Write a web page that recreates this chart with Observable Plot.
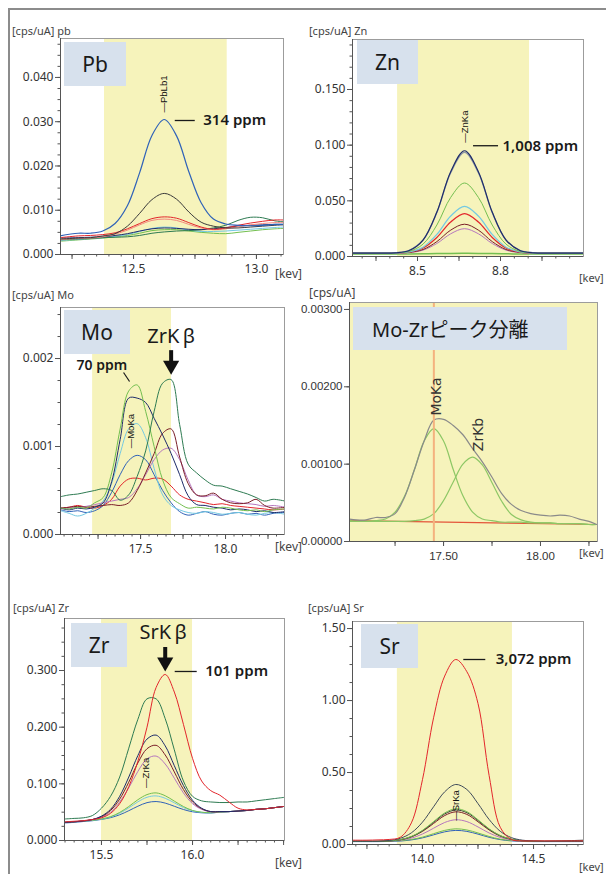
<!DOCTYPE html>
<html><head><meta charset="utf-8">
<script src="https://cdn.jsdelivr.net/npm/d3@7"></script>
<script src="https://cdn.jsdelivr.net/npm/@observablehq/plot@0.6"></script>
<style>
body{margin:0;background:#fff;overflow:hidden}
#root{position:relative;width:606px;height:874px;overflow:hidden;font-family:"Noto Sans",sans-serif}
.outer{position:absolute;left:8px;top:8px;width:800px;height:1000px;border:2px solid #8c8c8c}
.pn{position:absolute}
.lbl{position:absolute;font-size:11px;color:#444;white-space:nowrap;line-height:1}
.box{position:absolute;background:#d7e1ed;display:flex;align-items:center;justify-content:center;font-size:21px;color:#1a1a1a;font-family:"Noto Sans","Noto Sans CJK JP",sans-serif}
</style></head>
<body><div id="root"><div class="outer"></div></div>
<script>
// ---------------- DATA ----------------
// Pb panel
const pbX = [12.20, 12.275, 12.325, 12.375, 12.425, 12.475, 12.525, 12.575, 12.625, 12.675, 12.725, 12.775, 12.825, 12.875, 12.925, 12.975, 13.025, 13.075, 13.11];
const pbBlue    = [0.0042, 0.0048, 0.0048, 0.0053, 0.0070, 0.0110, 0.0185, 0.0269, 0.0305, 0.0268, 0.0187, 0.0117, 0.0080, 0.0069, 0.0066, 0.0065, 0.0066, 0.0068, 0.0068];
const pbBlack   = [0.0035, 0.0037, 0.0038, 0.0042, 0.0047, 0.0064, 0.0093, 0.0124, 0.0138, 0.0125, 0.0096, 0.0073, 0.0064, 0.0060, 0.0060, 0.0062, 0.0064, 0.0066, 0.0067];
const pbRed     = [0.0038, 0.0042, 0.0043, 0.0045, 0.0049, 0.0058, 0.0070, 0.0081, 0.0085, 0.0082, 0.0072, 0.0062, 0.0057, 0.0060, 0.0066, 0.0071, 0.0075, 0.0078, 0.0078];
const pbSalmon  = [0.0034, 0.0036, 0.0037, 0.0040, 0.0046, 0.0055, 0.0067, 0.0077, 0.0080, 0.0077, 0.0068, 0.0060, 0.0056, 0.0058, 0.0063, 0.0067, 0.0070, 0.0072, 0.0072];
const pbDkGreen = [0.0033, 0.0035, 0.0036, 0.0038, 0.0039, 0.0040, 0.0043, 0.0048, 0.0051, 0.0053, 0.0054, 0.0056, 0.0060, 0.0066, 0.0077, 0.0084, 0.0083, 0.0076, 0.0074];
const pbCyan    = [0.0032, 0.0034, 0.0036, 0.0038, 0.0041, 0.0045, 0.0052, 0.0059, 0.0062, 0.0060, 0.0055, 0.0052, 0.0052, 0.0053, 0.0055, 0.0057, 0.0059, 0.0061, 0.0062];
const pbGreen   = [0.0030, 0.0033, 0.0035, 0.0037, 0.0040, 0.0043, 0.0048, 0.0054, 0.0056, 0.0056, 0.0053, 0.0050, 0.0048, 0.0047, 0.0050, 0.0053, 0.0056, 0.0058, 0.0059];
const pbNavy    = [0.0037, 0.0038, 0.0039, 0.0040, 0.0043, 0.0047, 0.0053, 0.0058, 0.0060, 0.0059, 0.0057, 0.0056, 0.0058, 0.0061, 0.0064, 0.0066, 0.0067, 0.0068, 0.0068];
const pbXTicks = [12.5, 13.0];
const pbYTicks = [0, 0.010, 0.020, 0.030, 0.040];

// Zn panel
const znX = [8.265, 8.32, 8.37, 8.42, 8.47, 8.52, 8.57, 8.62, 8.67, 8.72, 8.77, 8.82, 8.87, 8.92, 8.97, 9.02, 9.10];
const znNavy   = [0.0030, 0.0030, 0.0030, 0.0033, 0.0054, 0.0148, 0.0399, 0.0762, 0.0950, 0.0762, 0.0399, 0.0148, 0.0054, 0.0033, 0.0030, 0.0030, 0.0030];
const znGray   = [0.0032, 0.0032, 0.0032, 0.0035, 0.0056, 0.0148, 0.0395, 0.0752, 0.0935, 0.0752, 0.0395, 0.0148, 0.0056, 0.0035, 0.0032, 0.0032, 0.0032];
const znGreen  = [0.0030, 0.0030, 0.0030, 0.0032, 0.0046, 0.0111, 0.0283, 0.0531, 0.0660, 0.0531, 0.0283, 0.0111, 0.0046, 0.0032, 0.0030, 0.0030, 0.0030];
const znCyan   = [0.0030, 0.0030, 0.0030, 0.0031, 0.0041, 0.0084, 0.0198, 0.0364, 0.0450, 0.0364, 0.0198, 0.0084, 0.0041, 0.0031, 0.0030, 0.0030, 0.0030];
const znRed    = [0.0031, 0.0031, 0.0031, 0.0032, 0.0040, 0.0076, 0.0171, 0.0310, 0.0385, 0.0310, 0.0171, 0.0076, 0.0040, 0.0032, 0.0031, 0.0031, 0.0031];
const znMaroon = [0.0030, 0.0030, 0.0030, 0.0031, 0.0037, 0.0063, 0.0134, 0.0237, 0.0290, 0.0237, 0.0134, 0.0063, 0.0037, 0.0031, 0.0030, 0.0030, 0.0030];
const znViolet = [0.0029, 0.0029, 0.0029, 0.0030, 0.0035, 0.0057, 0.0117, 0.0204, 0.0250, 0.0204, 0.0117, 0.0057, 0.0035, 0.0030, 0.0029, 0.0029, 0.0029];
const znFlat   = [0.0022, 0.0022, 0.0022, 0.0022, 0.0023, 0.0024, 0.0026, 0.0028, 0.0029, 0.0028, 0.0026, 0.0024, 0.0023, 0.0022, 0.0022, 0.0022, 0.0022];
const znXTicks = [8.5, 8.8];
const znYTicks = [0, 0.050, 0.100, 0.150];

// Mo panel
const moX = [17.03, 17.08, 17.13, 17.18, 17.23, 17.28, 17.33, 17.38, 17.43, 17.48, 17.53, 17.58, 17.63, 17.68, 17.73, 17.78, 17.83, 17.88, 17.93, 17.98, 18.03, 18.08, 18.13, 18.18, 18.23, 18.28, 18.35];
const moGreen   = [0.00030, 0.00029, 0.00031, 0.00030, 0.00036, 0.00042, 0.00070, 0.00120, 0.00163, 0.00170, 0.00140, 0.00100, 0.00062, 0.00042, 0.00035, 0.00030, 0.00031, 0.00030, 0.00029, 0.00031, 0.00030, 0.00028, 0.00027, 0.00028, 0.00026, 0.00028, 0.00029];
const moDkGreen = [0.00043, 0.00045, 0.00046, 0.00048, 0.00050, 0.00052, 0.00050, 0.00039, 0.00045, 0.00066, 0.00095, 0.00140, 0.00172, 0.00176, 0.00125, 0.00080, 0.00070, 0.00062, 0.00056, 0.00055, 0.00052, 0.00049, 0.00046, 0.00042, 0.00038, 0.00040, 0.00038];
const moNavy    = [0.00030, 0.00028, 0.00030, 0.00029, 0.00031, 0.00036, 0.00060, 0.00108, 0.00155, 0.00155, 0.00150, 0.00132, 0.00113, 0.00092, 0.00068, 0.00044, 0.00034, 0.00033, 0.00031, 0.00030, 0.00028, 0.00029, 0.00028, 0.00026, 0.00027, 0.00025, 0.00026];
const moCyan    = [0.00027, 0.00024, 0.00021, 0.00024, 0.00030, 0.00038, 0.00058, 0.00092, 0.00120, 0.00126, 0.00110, 0.00075, 0.00045, 0.00033, 0.00028, 0.00025, 0.00024, 0.00026, 0.00025, 0.00023, 0.00024, 0.00025, 0.00023, 0.00022, 0.00024, 0.00025, 0.00023];
const moBlue    = [0.00028, 0.00026, 0.00027, 0.00025, 0.00027, 0.00033, 0.00048, 0.00068, 0.00084, 0.00090, 0.00085, 0.00068, 0.00050, 0.00036, 0.00026, 0.00022, 0.00024, 0.00026, 0.00023, 0.00022, 0.00024, 0.00025, 0.00023, 0.00024, 0.00022, 0.00024, 0.00025];
const moMaroon  = [0.00030, 0.00031, 0.00032, 0.00031, 0.00032, 0.00033, 0.00034, 0.00033, 0.00036, 0.00050, 0.00070, 0.00092, 0.00115, 0.00120, 0.00088, 0.00058, 0.00045, 0.00044, 0.00047, 0.00040, 0.00036, 0.00035, 0.00036, 0.00040, 0.00033, 0.00030, 0.00031];
const moViolet  = [0.00029, 0.00030, 0.00031, 0.00032, 0.00034, 0.00036, 0.00038, 0.00040, 0.00042, 0.00052, 0.00068, 0.00085, 0.00096, 0.00098, 0.00085, 0.00062, 0.00045, 0.00043, 0.00045, 0.00040, 0.00038, 0.00036, 0.00035, 0.00034, 0.00032, 0.00033, 0.00031];
const moRed     = [0.00030, 0.00031, 0.00033, 0.00031, 0.00030, 0.00033, 0.00040, 0.00055, 0.00063, 0.00064, 0.00062, 0.00064, 0.00063, 0.00055, 0.00045, 0.00040, 0.00038, 0.00036, 0.00034, 0.00035, 0.00033, 0.00032, 0.00031, 0.00030, 0.00029, 0.00028, 0.00029];
const moXTicks = [17.5, 18.0];
const moYTicks = [0, 0.001, 0.002];

// Mo-Zr peak separation panel
const mzX = [17.015, 17.05, 17.10, 17.15, 17.20, 17.25, 17.30, 17.35, 17.40, 17.45, 17.50, 17.55, 17.60, 17.65, 17.70, 17.75, 17.80, 17.85, 17.90, 17.95, 18.00, 18.05, 18.10, 18.15, 18.20, 18.25, 18.29];
const mzTotal = [0.00029, 0.00028, 0.00028, 0.00031, 0.00031, 0.00036, 0.00058, 0.00093, 0.00130, 0.00157, 0.00158, 0.00150, 0.00138, 0.00120, 0.00103, 0.00083, 0.00062, 0.00048, 0.00040, 0.00036, 0.00034, 0.00033, 0.00034, 0.00033, 0.00029, 0.00026, 0.00022];
const mzMoKa  = [0.00026, 0.00026, 0.00026, 0.00027, 0.00029, 0.00038, 0.00059, 0.00093, 0.00130, 0.00146, 0.00130, 0.00093, 0.00059, 0.00038, 0.00029, 0.00027, 0.00025, 0.00025, 0.00025, 0.00024, 0.00024, 0.00024, 0.00023, 0.00023, 0.00023, 0.00022, 0.00022];
const mzZrKb  = [0.00027, 0.00026, 0.00026, 0.00026, 0.00026, 0.00026, 0.00026, 0.00027, 0.00029, 0.00036, 0.00053, 0.00077, 0.00100, 0.00109, 0.00099, 0.00076, 0.00052, 0.00035, 0.00028, 0.00025, 0.00024, 0.00024, 0.00023, 0.00023, 0.00023, 0.00022, 0.00022];
const mzBaseX = [17.015, 18.29];
const mzBase  = [0.00027, 0.00022];
const mzXTicks = [17.5, 18.0];
const mzYTicks = [0, 0.001, 0.002, 0.003];

// Zr panel
const zrX = [15.30, 15.35, 15.40, 15.45, 15.50, 15.55, 15.60, 15.65, 15.70, 15.75, 15.80, 15.85, 15.90, 15.95, 16.00, 16.05, 16.10, 16.15, 16.20, 16.25, 16.30, 16.35, 16.40, 16.45, 16.50];
const zrRed     = [0.033, 0.034, 0.035, 0.037, 0.040, 0.048, 0.065, 0.095, 0.140, 0.200, 0.270, 0.293, 0.262, 0.205, 0.145, 0.105, 0.088, 0.080, 0.068, 0.057, 0.054, 0.055, 0.056, 0.058, 0.060];
const zrDkGreen = [0.038, 0.039, 0.040, 0.044, 0.057, 0.078, 0.112, 0.163, 0.214, 0.250, 0.250, 0.215, 0.160, 0.105, 0.078, 0.070, 0.068, 0.067, 0.067, 0.068, 0.068, 0.070, 0.072, 0.074, 0.076];
const zrNavy    = [0.032, 0.033, 0.0345, 0.037, 0.043, 0.055, 0.078, 0.112, 0.150, 0.179, 0.186, 0.167, 0.132, 0.097, 0.071, 0.057, 0.051, 0.051, 0.051, 0.052, 0.053, 0.055, 0.056, 0.058, 0.060];
const zrMaroon  = [0.032, 0.033, 0.0345, 0.037, 0.042, 0.053, 0.073, 0.103, 0.137, 0.162, 0.168, 0.151, 0.121, 0.090, 0.068, 0.056, 0.051, 0.051, 0.051, 0.052, 0.053, 0.055, 0.056, 0.058, 0.060];
const zrViolet  = [0.032, 0.033, 0.0344, 0.0366, 0.041, 0.050, 0.068, 0.093, 0.122, 0.144, 0.149, 0.135, 0.110, 0.084, 0.065, 0.055, 0.0505, 0.0507, 0.051, 0.052, 0.053, 0.055, 0.056, 0.058, 0.060];
const zrGreen   = [0.032, 0.033, 0.0342, 0.0356, 0.038, 0.042, 0.0495, 0.060, 0.072, 0.081, 0.084, 0.079, 0.0695, 0.060, 0.053, 0.050, 0.049, 0.050, 0.051, 0.052, 0.053, 0.055, 0.056, 0.058, 0.060];
const zrCyan    = [0.032, 0.033, 0.0341, 0.0355, 0.0377, 0.0416, 0.0481, 0.0576, 0.0682, 0.0763, 0.0787, 0.0745, 0.0665, 0.0582, 0.0524, 0.0496, 0.0489, 0.050, 0.051, 0.052, 0.053, 0.055, 0.056, 0.058, 0.060];
const zrBlue    = [0.031, 0.032, 0.0335, 0.0349, 0.0372, 0.0403, 0.0454, 0.0526, 0.0605, 0.0668, 0.0688, 0.066, 0.0604, 0.0547, 0.0507, 0.0489, 0.0486, 0.050, 0.051, 0.052, 0.053, 0.055, 0.056, 0.058, 0.060];
const zrXTicks = [15.5, 16.0];
const zrYTicks = [0, 0.100, 0.200, 0.300];

// Sr panel
const srX = [13.685, 13.75, 13.80, 13.85, 13.90, 13.95, 14.00, 14.05, 14.10, 14.15, 14.20, 14.25, 14.30, 14.35, 14.40, 14.45, 14.50, 14.55, 14.60, 14.65, 14.725];
const srRed     = [0.030, 0.030, 0.032, 0.035, 0.050, 0.150, 0.450, 0.880, 1.170, 1.285, 1.200, 0.980, 0.480, 0.120, 0.035, 0.025, 0.025, 0.025, 0.025, 0.025, 0.025];
const srBlack   = [0.022, 0.022, 0.022, 0.028, 0.043, 0.081, 0.155, 0.262, 0.366, 0.417, 0.382, 0.284, 0.174, 0.092, 0.048, 0.030, 0.024, 0.022, 0.022, 0.022, 0.022];
const srGreen   = [0.022, 0.022, 0.022, 0.025, 0.034, 0.056, 0.098, 0.159, 0.219, 0.248, 0.228, 0.172, 0.109, 0.062, 0.037, 0.026, 0.023, 0.022, 0.022, 0.022, 0.022];
const srDark    = [0.022, 0.022, 0.022, 0.025, 0.033, 0.054, 0.095, 0.154, 0.212, 0.240, 0.221, 0.167, 0.106, 0.061, 0.036, 0.026, 0.023, 0.022, 0.024, 0.026, 0.030];
const srMaroon  = [0.022, 0.022, 0.022, 0.025, 0.033, 0.053, 0.091, 0.146, 0.201, 0.227, 0.209, 0.158, 0.101, 0.058, 0.036, 0.026, 0.023, 0.022, 0.022, 0.022, 0.022];
const srViolet  = [0.022, 0.022, 0.022, 0.024, 0.030, 0.044, 0.073, 0.113, 0.153, 0.172, 0.159, 0.122, 0.080, 0.049, 0.032, 0.025, 0.023, 0.022, 0.022, 0.022, 0.022];
const srLtGreen = [0.022, 0.022, 0.022, 0.023, 0.027, 0.035, 0.051, 0.075, 0.098, 0.109, 0.101, 0.080, 0.056, 0.037, 0.028, 0.024, 0.022, 0.022, 0.022, 0.022, 0.022];
const srBlue    = [0.020, 0.020, 0.020, 0.021, 0.024, 0.032, 0.046, 0.067, 0.088, 0.098, 0.091, 0.072, 0.050, 0.034, 0.025, 0.021, 0.020, 0.020, 0.020, 0.020, 0.020];
const srXTicks = [14.0, 14.5];
const srYTicks = [0, 0.50, 1.00, 1.50];

// ---------------- STYLE / RENDER ----------------
const BAND = "#f6f3bb";
const C = {blue:"#2f62b8", navy:"#1e2c6a", black:"#3a3a3a", red:"#e3262c", salmon:"#f28a7e", dkgreen:"#2e7b52",
  green:"#74bf50", cyan:"#74c9e2", maroon:"#7a1e28", violet:"#b676be", gray:"#8f98a6", slate:"#3f4b5a"};
const root = document.getElementById("root");
const FONT = "'Noto Sans', sans-serif";

function peakOf(xs, ys) { let i = d3.maxIndex(ys); return {x: xs[i], y: ys[i]}; }
function rows(xs, ys) { return xs.map((x, i) => ({x, y: ys[i]})); }

function addText(txt, left, top, cls, style) {
  const d = document.createElement("div");
  d.className = cls; d.textContent = txt;
  d.style.left = left + "px"; d.style.top = top + "px";
  if (style) Object.assign(d.style, style);
  root.appendChild(d);
}

function render(p) {
  const mL = 56, mR = 8, mT = 8, mB = 28;
  const [fl, ft, fr, fb] = p.frame;
  const fw = fr - fl, fh = fb - ft;
  const kx = (p.xDom[1] - p.xDom[0]) / fw, ky = (p.yDom[1] - p.yDom[0]) / fh;
  const marks = [];
  marks.push(Plot.rect([p.band], {x1: d => d[0], x2: d => d[1], y1: () => p.yDom[0], y2: () => p.yDom[1], fill: BAND}));
  for (const s of p.series) {
    marks.push(Plot.line(rows(s.x, s.y), {x: "x", y: "y", stroke: s.c, strokeWidth: s.w || 1, curve: s.curve || "catmull-rom", clip: true}));
  }
  marks.push(...p.annot(kx, ky));
  marks.push(
    Plot.axisX(d3.range(p.xMinor[0], p.xDom[1], p.xMinor[1]), {tickSize: 2.5, tickFormat: () => "", label: null, stroke: "#555"}),
    Plot.axisX(d3.range(p.xMajor[0], p.xDom[1], p.xMajor[1]), {tickSize: 5, tickFormat: () => "", label: null, stroke: "#555"}),
    Plot.axisX(p.xTicks, {tickSize: 5, tickPadding: 5, tickFormat: p.xFmt, label: null, fontSize: p.tickFont || 12, fill: "#333", stroke: "#555"}),
    Plot.axisY(d3.range(0, p.yDom[1], p.yMinor), {tickSize: 2.5, tickFormat: () => "", label: null, stroke: "#555"}),
    Plot.axisY(p.yTicks, {tickSize: 5, tickPadding: 2, tickFormat: p.yFmt, label: null, fontSize: p.tickFont || 12, fill: "#333", stroke: "#555"}),
    Plot.frame({stroke: "#9c9c9c"}),
    Plot.ruleX([p.xDom[0]], {stroke: "#555"}),
    Plot.ruleY([p.yDom[0]], {stroke: "#555"})
  );
  const svg = Plot.plot({
    width: fw + mL + mR, height: fh + mT + mB,
    marginLeft: mL, marginRight: mR, marginTop: mT, marginBottom: mB,
    x: {domain: p.xDom, label: null}, y: {domain: p.yDom, label: null},
    style: {fontFamily: p.fontFamily || FONT, fontSize: "12px", color: "#333", background: "transparent", overflow: "visible"},
    marks
  });
  const div = document.createElement("div");
  div.className = "pn";
  div.style.left = (fl - mL) + "px"; div.style.top = (ft - mT) + "px";
  div.appendChild(svg);
  root.appendChild(div);
}

function ppm(peak, kx, ky, label, x1, x2, dyl, dxt, size) {
  return [
    Plot.ruleY([peak], {y: "y", x1: d => d.x + x1 * kx, x2: d => d.x + x2 * kx, dy: dyl, stroke: "#1a1a1a", strokeWidth: 1.3}),
    Plot.text([peak], {x: "x", y: "y", text: () => label, dx: dxt, dy: dyl, textAnchor: "start", fontSize: size || 15, fontWeight: 600, fill: "#1a1a1a"})
  ];
}
function vlabel(peak, label, dx, dy, size, font, color) {
  return Plot.text([peak], {x: "x", y: "y", text: () => label, rotate: -90, textAnchor: "start", dx, dy,
    fontSize: size || 9.5, fontFamily: font || "'Liberation Sans', sans-serif", fill: color || "#111"});
}
function arrow(peak, ky, label, tipDy, dxText) {
  return [
    Plot.text([peak], {x: "x", y: "y", text: () => label, dx: dxText || 0, dy: tipDy - 32, fontSize: 20, fill: "#1a1a1a", lineAnchor: "bottom"}),
    Plot.ruleX([peak], {x: "x", y1: d => d.y + (-tipDy + 24) * ky, y2: d => d.y + (-tipDy + 10) * ky, stroke: "#111", strokeWidth: 4}),
    Plot.dot([peak], {x: "x", y: "y", symbol: "triangle", rotate: 180, r: 6, fill: "#111", stroke: "none", dy: tipDy - 9.3})
  ];
}

// Pb
render({frame: [60, 38, 283, 254], xDom: [12.203, 13.11], yDom: [0, 0.0488], band: [12.382, 12.881],
  xMinor: [12.25, 0.05], xMajor: [12.25, 0.25], xTicks: pbXTicks, xFmt: d3.format(".1f"),
  yMinor: 0.0025, yTicks: pbYTicks, yFmt: d3.format(".3f"),
  series: [
    {x: pbX, y: pbGreen, c: C.green}, {x: pbX, y: pbCyan, c: C.cyan}, {x: pbX, y: pbDkGreen, c: C.dkgreen},
    {x: pbX, y: pbNavy, c: C.navy}, {x: pbX, y: pbSalmon, c: C.salmon}, {x: pbX, y: pbRed, c: C.red},
    {x: pbX, y: pbBlack, c: C.black}, {x: pbX, y: pbBlue, c: C.blue, w: 1.2}],
  annot: (kx, ky) => { const pk = peakOf(pbX, pbBlue); return [vlabel(pk, "—PbLb1", 0, -7), ...ppm(pk, kx, ky, "314 ppm", 11, 31, 1, 39)]; }
});
// Zn
render({frame: [352, 39, 583, 256], xDom: [8.265, 9.10], yDom: [0, 0.1949], band: [8.428, 8.905],
  xMinor: [8.30, 0.05], xMajor: [8.35, 0.15], xTicks: znXTicks, xFmt: d3.format(".1f"),
  yMinor: 0.01, yTicks: znYTicks, yFmt: d3.format(".3f"),
  series: [
    {x: znX, y: znFlat, c: C.green, w: 1.5}, {x: znX, y: znViolet, c: C.violet}, {x: znX, y: znMaroon, c: C.maroon},
    {x: znX, y: znRed, c: C.red, w: 1.2}, {x: znX, y: znCyan, c: C.cyan, w: 1.2}, {x: znX, y: znGreen, c: C.green},
    {x: znX, y: znGray, c: C.gray, w: 1.3}, {x: znX, y: znNavy, c: C.navy, w: 1.2}],
  annot: (kx, ky) => { const pk = peakOf(znX, znNavy); return [vlabel(pk, "—ZnKa", 0, -8), ...ppm(pk, kx, ky, "1,008 ppm", 9, 34, -5, 38)]; }
});
// Mo
render({frame: [60, 307, 284, 534], xDom: [17.029, 18.347], yDom: [0, 0.00258], band: [17.218, 17.682],
  xMinor: [17.05, 0.05], xMajor: [17.25, 0.25], xTicks: moXTicks, xFmt: d3.format(".1f"),
  yMinor: 0.00025, yTicks: moYTicks, yFmt: d3.format(".3f"),
  series: [
    {x: moX, y: moRed, c: C.red}, {x: moX, y: moBlue, c: C.blue}, {x: moX, y: moCyan, c: C.cyan},
    {x: moX, y: moViolet, c: C.violet}, {x: moX, y: moMaroon, c: C.maroon}, {x: moX, y: moNavy, c: C.navy},
    {x: moX, y: moGreen, c: C.green}, {x: moX, y: moDkGreen, c: C.dkgreen}],
  annot: (kx, ky) => {
    const pg = peakOf(moX, moGreen), pb = peakOf(moX, moBlue), pz = peakOf(moX, moDkGreen);
    return [
      vlabel(pb, "—MoKa", -6, -7),
      Plot.link([pg], {x1: d => d.x - 13.6 * kx, y1: d => d.y + 12.4 * ky, x2: d => d.x - 7.6 * kx, y2: d => d.y + 3.4 * ky, stroke: "#1a1a1a", strokeWidth: 1.2}),
      Plot.text([pg], {x: "x", y: "y", text: () => "70 ppm", dx: -10, dy: -19, textAnchor: "end", fontSize: 14, fontWeight: 600, fill: "#1a1a1a"}),
      ...arrow(pz, ky, "ZrK\u2009β", -5)
    ];
  }
});
// Mo-Zr separation
render({frame: [349, 302, 597, 541], xDom: [17.015, 18.294], yDom: [0, 0.00309], band: [17.015, 18.294],
  xMinor: [17.25, 0.25], xMajor: [17.25, 0.25], xTicks: mzXTicks, xFmt: d3.format(".2f"),
  yMinor: 0.001, yTicks: mzYTicks, yFmt: d3.format(".5f"), tickFont: 11.5, fontFamily: "'Liberation Sans', sans-serif",
  series: [
    {x: mzBaseX, y: mzBase, c: "#e4553a", w: 1.2, curve: "linear"},
    {x: mzX, y: mzMoKa, c: "#8dc765", w: 1.2}, {x: mzX, y: mzZrKb, c: "#8dc765", w: 1.2},
    {x: mzX, y: mzTotal, c: "#8a8a8a", w: 1.2}],
  annot: (kx, ky) => {
    const p1 = peakOf(mzX, mzMoKa), p2 = peakOf(mzX, mzZrKb);
    return [
      Plot.ruleX([p1], {x: "x", stroke: "#f4b27e", strokeWidth: 2}),
      vlabel(p1, "MoKa", 3, -13, 14, "'DejaVu Sans', sans-serif", "#333"),
      vlabel(p2, "ZrKb", 5.5, -6, 14, "'DejaVu Sans', sans-serif", "#333")
    ];
  }
});
// Zr
render({frame: [64, 618, 284, 840], xDom: [15.297, 16.505], yDom: [0, 0.3918], band: [15.5, 16.0],
  xMinor: [15.30, 0.05], xMajor: [15.50, 0.25], xTicks: zrXTicks, xFmt: d3.format(".1f"),
  yMinor: 0.025, yTicks: zrYTicks, yFmt: d3.format(".3f"),
  series: [
    {x: zrX, y: zrBlue, c: C.blue}, {x: zrX, y: zrCyan, c: C.cyan}, {x: zrX, y: zrGreen, c: C.green},
    {x: zrX, y: zrViolet, c: C.violet}, {x: zrX, y: zrMaroon, c: C.maroon}, {x: zrX, y: zrNavy, c: C.navy},
    {x: zrX, y: zrDkGreen, c: C.dkgreen}, {x: zrX, y: zrRed, c: C.red}],
  annot: (kx, ky) => {
    const pr = peakOf(zrX, zrRed), pg = peakOf(zrX, zrGreen);
    return [vlabel(pg, "—ZrKa", -10, -5), ...ppm(pr, kx, ky, "101 ppm", 10, 32, -3, 40), ...arrow(pr, ky, "SrK\u2009β", -3, -2)];
  }
});
// Sr
render({frame: [352, 621, 583, 844], xDom: [13.685, 14.725], yDom: [0, 1.549], band: [13.887, 14.405],
  xMinor: [13.70, 0.05], xMajor: [13.75, 0.25], xTicks: srXTicks, xFmt: d3.format(".1f"),
  yMinor: 0.125, yTicks: srYTicks, yFmt: d3.format(".2f"),
  series: [
    {x: srX, y: srBlue, c: C.blue}, {x: srX, y: srLtGreen, c: C.green}, {x: srX, y: srViolet, c: C.violet},
    {x: srX, y: srMaroon, c: C.maroon}, {x: srX, y: srDark, c: C.black}, {x: srX, y: srGreen, c: C.green},
    {x: srX, y: srBlack, c: C.slate}, {x: srX, y: srRed, c: C.red}],
  annot: (kx, ky) => {
    const pr = peakOf(srX, srRed), pv = peakOf(srX, srViolet);
    return [vlabel(pv, "—SrKa", 0, 1), ...ppm(pr, kx, ky, "3,072 ppm", 8, 30, 0, 40)];
  }
});

// HTML labels
addText("[cps/uA] pb", 12, 25, "lbl");
addText("[cps/uA] Zn", 309, 25, "lbl");
addText("[cps/uA] Mo", 12, 289, "lbl");
addText("[cps/uA]", 309, 287, "lbl", {fontSize: "12px"});
addText("[cps/uA] Zr", 13, 602, "lbl");
addText("[cps/uA] Sr", 308, 602, "lbl");
addText("[kev]", 275, 268, "lbl", {fontSize: "12px"});
addText("[kev]", 579, 272, "lbl", {fontSize: "11px"});
addText("[kev]", 275, 541, "lbl", {fontSize: "12px"});
addText("[kev]", 579, 547, "lbl", {fontSize: "11px"});
addText("[kev]", 275, 857, "lbl", {fontSize: "12px"});
addText("[kev]", 579, 861, "lbl", {fontSize: "11px"});
function box(txt, l, t, w, h, extra) {
  const d = document.createElement("div");
  d.className = "box"; d.textContent = txt;
  Object.assign(d.style, {left: l + "px", top: t + "px", width: w + "px", height: h + "px"}, extra || {});
  root.appendChild(d);
}
box("Pb", 64, 42, 62, 44);
box("Zn", 357, 40, 61, 44);
box("Mo", 64, 310, 66, 44);
box("Mo-Zrピーク分離", 353, 307, 214, 43, {justifyContent: "flex-start", paddingLeft: "19px", boxSizing: "border-box", fontSize: "20px"});
box("Zr", 71, 623, 56, 44);
box("Sr", 361, 624, 57, 44);
</script>
</body></html>
